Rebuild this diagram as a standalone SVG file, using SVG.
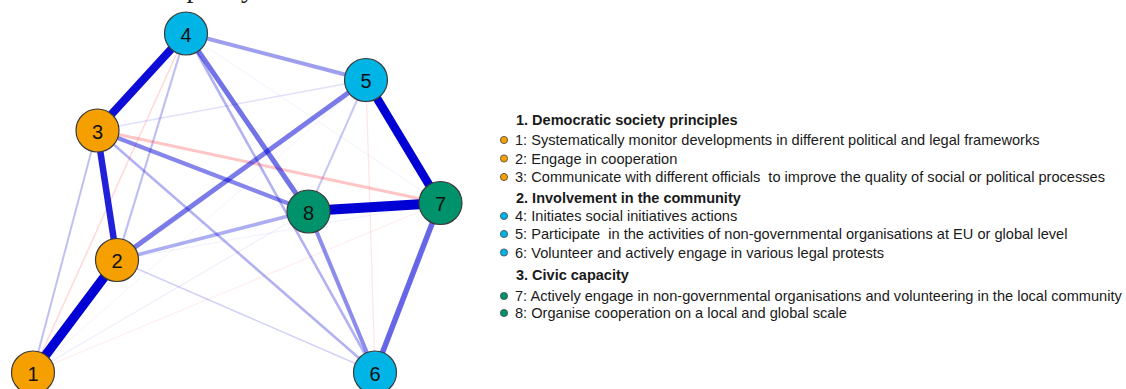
<svg xmlns="http://www.w3.org/2000/svg" width="1126" height="389" viewBox="0 0 1126 389">
<style>
.node circle{stroke:#3a3a3a;stroke-width:1.2}
.node text{font-family:"Liberation Sans",Arial,sans-serif;font-size:20px;fill:#111;text-anchor:middle;dominant-baseline:central}
.o{fill:#F5A000}
.b{fill:#00B4E6}
.g{fill:#00936B}
.e{fill:none;stroke-linecap:butt}
.p{stroke:#0000D5}
.n{stroke:#FF4040}
.leg text{font-family:"Liberation Sans",Arial,sans-serif;font-size:14.6px;fill:#1a1a1a}
.leg .h{font-weight:bold;font-size:14.5px}
.leg circle{stroke:#444;stroke-width:0.8}
.top{font-family:"Liberation Serif","Times New Roman",serif;font-size:28px;fill:#222}
</style>
<rect width="1126" height="389" fill="#fff"/>
<text class="top" x="412" y="-3" text-anchor="end">which shows the capacity to be created.</text>
<g id="connectors">
  <line class="e p" x1="33" y1="372" x2="366" y2="80" stroke-width="1" stroke-opacity="0.05"/>
  <line class="e p" x1="33" y1="372" x2="308" y2="211" stroke-width="1.2" stroke-opacity="0.07"/>
  <line class="e n" x1="33" y1="372" x2="440" y2="203" stroke-width="1.2" stroke-opacity="0.09"/>
  <line class="e p" x1="117" y1="260" x2="440" y2="203" stroke-width="1" stroke-opacity="0.06"/>
  <line class="e p" x1="186" y1="33" x2="440" y2="203" stroke-width="1" stroke-opacity="0.06"/>
  <line class="e n" x1="366" y1="80" x2="375" y2="372" stroke-width="1.3" stroke-opacity="0.13"/>
  <line class="e p" x1="97" y1="130" x2="366" y2="80" stroke-width="1.5" stroke-opacity="0.12"/>
  <line class="e p" x1="117" y1="260" x2="375" y2="372" stroke-width="1.5" stroke-opacity="0.18"/>
  <line class="e n" x1="186" y1="33" x2="33" y2="372" stroke-width="1.5" stroke-opacity="0.2"/>
  <line class="e p" x1="97" y1="130" x2="33" y2="372" stroke-width="2" stroke-opacity="0.25"/>
  <line class="e p" x1="186" y1="33" x2="117" y2="260" stroke-width="2.2" stroke-opacity="0.25"/>
  <line class="e p" x1="366" y1="80" x2="308" y2="211" stroke-width="2" stroke-opacity="0.22"/>
  <line class="e p" x1="186" y1="33" x2="375" y2="372" stroke-width="2.6" stroke-opacity="0.3"/>
  <line class="e p" x1="97" y1="130" x2="375" y2="372" stroke-width="2.6" stroke-opacity="0.3"/>
  <line class="e n" x1="97" y1="130" x2="440" y2="203" stroke-width="3" stroke-opacity="0.3"/>
  <line class="e p" x1="117" y1="260" x2="308" y2="211" stroke-width="3.5" stroke-opacity="0.32"/>
  <line class="e p" x1="186" y1="33" x2="366" y2="80" stroke-width="4" stroke-opacity="0.38"/>
  <line class="e p" x1="308" y1="211" x2="375" y2="372" stroke-width="4" stroke-opacity="0.45"/>
  <line class="e p" x1="97" y1="130" x2="308" y2="211" stroke-width="4.2" stroke-opacity="0.48"/>
  <line class="e p" x1="117" y1="260" x2="366" y2="80" stroke-width="5" stroke-opacity="0.52"/>
  <line class="e p" x1="186" y1="33" x2="308" y2="211" stroke-width="5" stroke-opacity="0.55"/>
  <line class="e p" x1="440" y1="203" x2="375" y2="372" stroke-width="5.5" stroke-opacity="0.6"/>
  <line class="e p" x1="97" y1="130" x2="117" y2="260" stroke-width="6.5" stroke-opacity="0.87"/>
  <line class="e p" x1="97" y1="130" x2="186" y2="33" stroke-width="8" stroke-opacity="0.95"/>
  <line class="e p" x1="366" y1="80" x2="440" y2="203" stroke-width="8.5" stroke-opacity="1"/>
  <line class="e p" x1="308" y1="211" x2="440" y2="203" stroke-width="10" stroke-opacity="1"/>
  <line class="e p" x1="33" y1="372" x2="117" y2="260" stroke-width="9.5" stroke-opacity="1"/>
</g>
<g id="node1" class="node"><circle class="o" cx="33" cy="372.5" r="21.5"/><text x="33" y="373.5">1</text></g>
<g id="node2" class="node"><circle class="o" cx="117" cy="260" r="21.5"/><text x="117" y="261">2</text></g>
<g id="node3" class="node"><circle class="o" cx="97.5" cy="130.5" r="21.5"/><text x="97.5" y="131.5">3</text></g>
<g id="node4" class="node"><circle class="b" cx="186" cy="33.5" r="21.5"/><text x="186" y="34.5">4</text></g>
<g id="node5" class="node"><circle class="b" cx="366" cy="80" r="21.5"/><text x="366" y="81">5</text></g>
<g id="node6" class="node"><circle class="b" cx="375" cy="372.5" r="21.5"/><text x="375" y="373.5">6</text></g>
<g id="node7" class="node"><circle class="g" cx="440.5" cy="203" r="21.5"/><text x="440.5" y="204">7</text></g>
<g id="node8" class="node"><circle class="g" cx="308.5" cy="211.5" r="21.5"/><text x="308.5" y="212.5">8</text></g>
<g id="legend" class="leg">
  <text class="h" x="516" y="125">1. Democratic society principles</text>
  <circle class="o" cx="504" cy="140" r="3.6"/><text x="515" y="145">1: Systematically monitor developments in different political and legal frameworks</text>
  <circle class="o" cx="504" cy="158.5" r="3.6"/><text x="515" y="163.5">2: Engage in cooperation</text>
  <circle class="o" cx="504" cy="177" r="3.6"/><text x="515" y="182" xml:space="preserve">3: Communicate with different officials  to improve the quality of social or political processes</text>
  <text class="h" x="516" y="203">2. Involvement in the community</text>
  <circle class="b" cx="504" cy="216" r="3.6"/><text x="515" y="221">4: Initiates social initiatives actions</text>
  <circle class="b" cx="504" cy="234" r="3.6"/><text x="515" y="239" xml:space="preserve">5: Participate  in the activities of non-governmental organisations at EU or global level</text>
  <circle class="b" cx="504" cy="252.5" r="3.6"/><text x="515" y="257.5">6: Volunteer and actively engage in various legal protests</text>
  <text class="h" x="516" y="280">3. Civic capacity</text>
  <circle class="g" cx="504" cy="296" r="3.6"/><text x="515" y="301">7: Actively engage in non-governmental organisations and volunteering in the local community</text>
  <circle class="g" cx="504" cy="313" r="3.6"/><text x="515" y="318">8: Organise cooperation on a local and global scale</text>
</g>
</svg>
